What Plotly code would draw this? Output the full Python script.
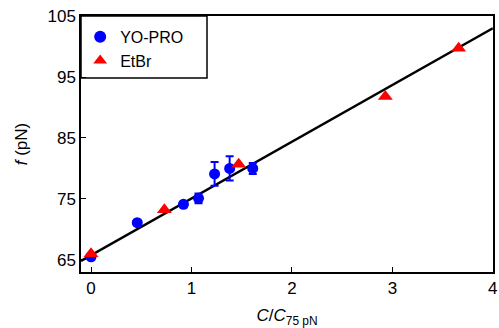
import plotly.graph_objects as go

# YO-PRO data
yo_x = [0.0, 0.46, 0.92, 1.07, 1.23, 1.38, 1.61]
yo_y = [65.5, 71.1, 74.1, 75.1, 79.1, 80.0, 80.0]
yo_err = [0.3, 0.3, 0.4, 0.8, 1.95, 2.0, 0.9]

# EtBr data
et_x = [0.0, 0.73, 1.47, 2.93, 3.66]
et_y = [66.0, 73.2, 80.7, 91.8, 99.7]

# Linear fit line endpoints
fit_x = [-0.1, 4.0]
fit_y = [64.8, 103.0]

x_ticks = [0, 1, 2, 3, 4]
y_ticks = [65, 75, 85, 95, 105]

FONT = "Liberation Sans, Arial, Helvetica, sans-serif"

fig = go.Figure()
fig.add_trace(go.Scatter(x=fit_x, y=fit_y, mode="lines",
                         line=dict(color="black", width=2.5),
                         showlegend=False, hoverinfo="skip", cliponaxis=True))
fig.add_trace(go.Scatter(x=yo_x, y=yo_y, mode="markers", name="YO-PRO",
                         marker=dict(symbol="circle", size=11, color="#0000ff"),
                         error_y=dict(type="data", array=yo_err, color="#0000ff",
                                      thickness=2, width=4)))
fig.add_trace(go.Scatter(x=et_x, y=et_y, mode="markers", name="EtBr",
                         marker=dict(symbol="triangle-up", size=13, color="#ff0000")))

fig.update_layout(
    width=499, height=328,
    margin=dict(l=81, r=6, t=16, b=56),
    plot_bgcolor="white", paper_bgcolor="white",
    font=dict(family=FONT, size=16, color="black"),
    showlegend=True,
    legend=dict(x=-0.002, y=0.985, xanchor="left", yanchor="top",
                bgcolor="rgba(0,0,0,0)", borderwidth=0,
                font=dict(size=16), itemsizing="constant", tracegroupgap=0),
    shapes=[dict(type="rect", xref="paper", yref="paper",
                 x0=0, x1=126/412, y0=1 - 62/256, y1=1,
                 line=dict(color="black", width=1.5), fillcolor="white", layer="below")],
    xaxis=dict(range=[-0.1, 4.002], tickvals=x_ticks, ticks="inside", ticklen=5,
               tickwidth=1.2, tickcolor="black", showline=True, linecolor="black",
               linewidth=1.5, mirror=True, showgrid=False, zeroline=False,
               tickfont=dict(size=17), automargin=False,
               title=dict(text="<i>C</i>/<i>C</i><sub>75 pN</sub>", font=dict(size=17), standoff=12)),
    yaxis=dict(range=[63, 105.01], tickvals=y_ticks, ticks="inside", ticklen=5,
               tickwidth=1.2, tickcolor="black", showline=True, linecolor="black",
               linewidth=1.5, mirror=True, showgrid=False, zeroline=False,
               tickfont=dict(size=17), automargin=False,
               title=dict(text="<i>f</i> (pN)", font=dict(size=17), standoff=16)),
)

fig.write_html(
    "out.html",
    config={"displayModeBar": False},
    post_script="document.body.style.margin='0';document.body.style.overflow='hidden';",
)
